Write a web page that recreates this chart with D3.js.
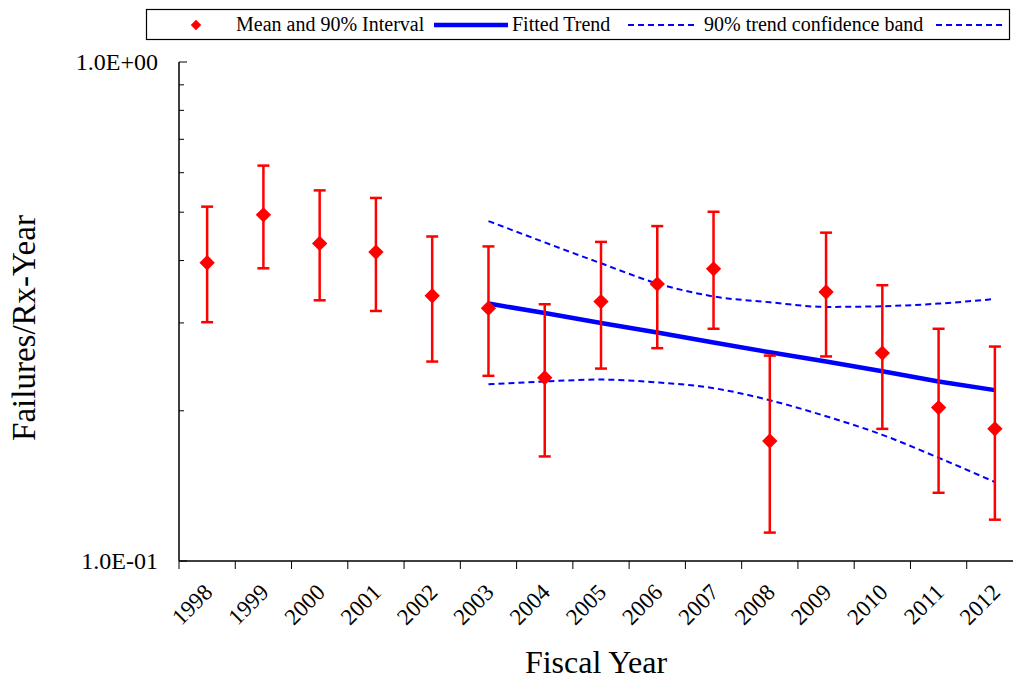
<!DOCTYPE html>
<html>
<head>
<meta charset="utf-8">
<script src="https://cdn.jsdelivr.net/npm/d3@7"></script>
<style>
  body { margin: 0; background: #fff; }
  svg { font-family: "Liberation Serif", "Times New Roman", serif; }
</style>
</head>
<body>
<svg id="chart" width="1013" height="682"></svg>
<script>
// fiscal years on the x axis
const years = ["1998", "1999", "2000", "2001", "2002", "2003", "2004", "2005",
               "2006", "2007", "2008", "2009", "2010", "2011", "2012"];

// mean and 90% interval (failures per reactor-year)
const meanValues  = [0.396, 0.494, 0.433, 0.416, 0.340, 0.321, 0.233, 0.331,
                     0.359, 0.385, 0.174, 0.346, 0.261, 0.203, 0.184];
const upperValues = [0.513, 0.620, 0.553, 0.534, 0.447, 0.427, 0.327, 0.436,
                     0.469, 0.501, 0.258, 0.455, 0.357, 0.292, 0.269];
const lowerValues = [0.301, 0.386, 0.333, 0.317, 0.251, 0.235, 0.162, 0.243,
                     0.267, 0.292, 0.114, 0.257, 0.184, 0.137, 0.121];

// fitted trend and its 90% confidence band, 2003 onwards
const trendYears = ["2003", "2004", "2005", "2006", "2007", "2008", "2009", "2010", "2011", "2012"];
const trendValues = [0.328, 0.314, 0.300, 0.287, 0.274, 0.262, 0.251, 0.240, 0.229, 0.220];
const bandUpper   = [0.480, 0.435, 0.395, 0.360, 0.339, 0.330, 0.323, 0.324, 0.328, 0.335];
const bandLower   = [0.226, 0.229, 0.231, 0.228, 0.222, 0.210, 0.195, 0.179, 0.161, 0.144];

const yTickValues = [0.1, 1];
const yMinorTicks = [0.2, 0.3, 0.4, 0.5, 0.6, 0.7, 0.8, 0.9];

const svg = d3.select("#chart");
const margin = {left: 179, top: 62, bottom: 561};
const plotRight = 1023;

const x = d3.scaleBand()
    .domain(years)
    .range([margin.left, plotRight])
    .padding(0);

const y = d3.scaleLog()
    .domain([0.1, 1])
    .range([margin.bottom, margin.top]);

const cx = d => x(d) + x.bandwidth() / 2;

// x axis: line plus ticks at category boundaries
const xAxis = svg.append("g");
xAxis.append("line")
    .attr("x1", margin.left).attr("x2", plotRight)
    .attr("y1", margin.bottom).attr("y2", margin.bottom)
    .attr("stroke", "#000").attr("stroke-width", 1.5);
xAxis.selectAll("line.tick")
    .data(years)
    .enter().append("line")
    .attr("class", "tick")
    .attr("x1", d => x(d)).attr("x2", d => x(d))
    .attr("y1", margin.bottom).attr("y2", margin.bottom + 8)
    .attr("stroke", "#000").attr("stroke-width", 1);
xAxis.selectAll("text")
    .data(years)
    .enter().append("text")
    .attr("transform", d => "translate(" + (cx(d) + 1) + "," + (margin.bottom + 27) + ") rotate(-45)")
    .attr("text-anchor", "end")
    .attr("dy", "0.35em")
    .attr("font-size", 23)
    .text(d => d);

// y axis: line, inward ticks, labels
const yAxis = svg.append("g");
yAxis.append("line")
    .attr("x1", margin.left).attr("x2", margin.left)
    .attr("y1", margin.top).attr("y2", margin.bottom)
    .attr("stroke", "#000").attr("stroke-width", 1.5);
yAxis.selectAll("line.major")
    .data(yTickValues)
    .enter().append("line")
    .attr("class", "major")
    .attr("x1", margin.left).attr("x2", margin.left + 8)
    .attr("y1", d => y(d)).attr("y2", d => y(d))
    .attr("stroke", "#000").attr("stroke-width", 1);
yAxis.selectAll("line.minor")
    .data(yMinorTicks)
    .enter().append("line")
    .attr("class", "minor")
    .attr("x1", margin.left).attr("x2", margin.left + 5)
    .attr("y1", d => y(d)).attr("y2", d => y(d))
    .attr("stroke", "#000").attr("stroke-width", 1);
yAxis.selectAll("text")
    .data(yTickValues)
    .enter().append("text")
    .attr("x", margin.left - 21)
    .attr("y", d => y(d))
    .attr("dy", "0.35em")
    .attr("text-anchor", "end")
    .attr("font-size", 24)
    .text(d => d === 1 ? "1.0E+00" : "1.0E-01");

// axis titles
svg.append("text")
    .attr("transform", "translate(35,328) rotate(-90)")
    .attr("text-anchor", "middle")
    .attr("font-size", 33)
    .text("Failures/Rx-Year");
svg.append("text")
    .attr("x", 596).attr("y", 673)
    .attr("text-anchor", "middle")
    .attr("font-size", 32)
    .text("Fiscal Year");

// confidence band (dashed)
const bandLine = d3.line()
    .x((d, i) => cx(trendYears[i]))
    .y(d => y(d))
    .curve(d3.curveMonotoneX);
[bandUpper, bandLower].forEach(band => {
    svg.append("path")
        .datum(band)
        .attr("d", bandLine)
        .attr("fill", "none")
        .attr("stroke", "#0000ff")
        .attr("stroke-width", 2)
        .attr("stroke-dasharray", "6,4");
});

// fitted trend
svg.append("path")
    .datum(trendValues)
    .attr("d", d3.line().x((d, i) => cx(trendYears[i])).y(d => y(d)))
    .attr("fill", "none")
    .attr("stroke", "#0000ff")
    .attr("stroke-width", 4.5);

// error bars
const bars = svg.append("g").attr("stroke", "#ff0000").attr("stroke-width", 2.5);
years.forEach((yr, i) => {
    const xc = cx(yr);
    bars.append("line")
        .attr("x1", xc).attr("x2", xc)
        .attr("y1", y(upperValues[i])).attr("y2", y(lowerValues[i]));
    bars.append("line")
        .attr("x1", xc - 6).attr("x2", xc + 6)
        .attr("y1", y(upperValues[i])).attr("y2", y(upperValues[i]));
    bars.append("line")
        .attr("x1", xc - 6).attr("x2", xc + 6)
        .attr("y1", y(lowerValues[i])).attr("y2", y(lowerValues[i]));
});

// mean markers
const diamond = d3.symbol().type(d3.symbolDiamond2).size(150);
svg.selectAll("path.mean")
    .data(meanValues)
    .enter().append("path")
    .attr("class", "mean")
    .attr("d", diamond)
    .attr("transform", (d, i) => "translate(" + cx(years[i]) + "," + y(d) + ")")
    .attr("fill", "#ff0000");

// legend
const legend = svg.append("g");
legend.append("rect")
    .attr("x", 146.5).attr("y", 9.5)
    .attr("width", 863).attr("height", 30)
    .attr("fill", "#fff").attr("stroke", "#000").attr("stroke-width", 1.2);
legend.append("path")
    .attr("d", d3.symbol().type(d3.symbolDiamond2).size(70))
    .attr("transform", "translate(196,25)")
    .attr("fill", "#ff0000");
legend.append("text").attr("x", 236).attr("y", 31).attr("font-size", 20)
    .text("Mean and 90% Interval");
legend.append("line")
    .attr("x1", 434).attr("x2", 508).attr("y1", 25).attr("y2", 25)
    .attr("stroke", "#0000ff").attr("stroke-width", 4.5);
legend.append("text").attr("x", 512).attr("y", 31).attr("font-size", 20)
    .text("Fitted Trend");
legend.append("line")
    .attr("x1", 628).attr("x2", 698).attr("y1", 25).attr("y2", 25)
    .attr("stroke", "#0000ff").attr("stroke-width", 2).attr("stroke-dasharray", "6,4");
legend.append("text").attr("x", 704).attr("y", 31).attr("font-size", 20)
    .text("90% trend confidence band");
legend.append("line")
    .attr("x1", 936).attr("x2", 1006).attr("y1", 25).attr("y2", 25)
    .attr("stroke", "#0000ff").attr("stroke-width", 2).attr("stroke-dasharray", "6,4");
</script>
</body>
</html>
